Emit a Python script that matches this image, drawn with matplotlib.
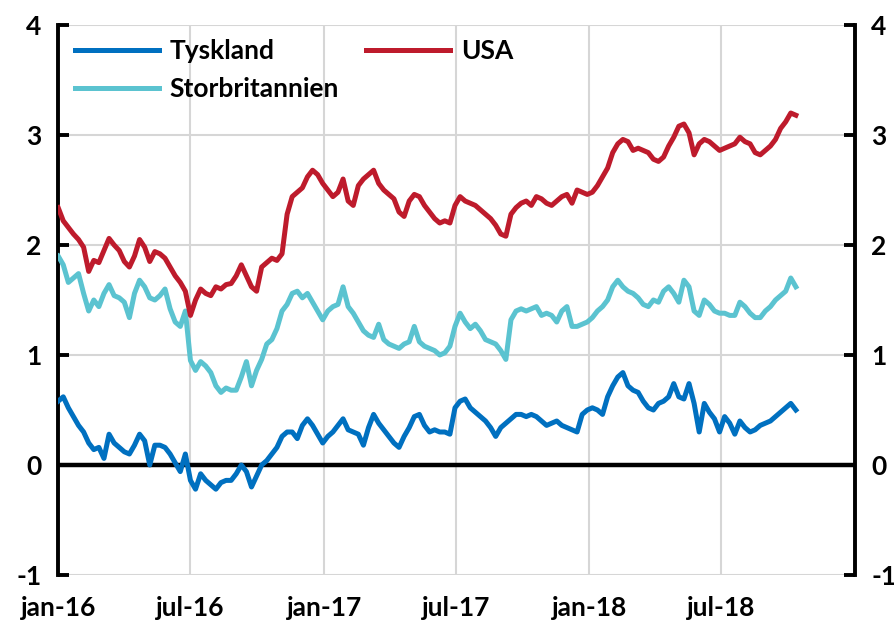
import pandas as pd
import matplotlib
matplotlib.use("Agg")
import matplotlib.pyplot as plt

# weekly readings, first week of jan-16 onwards
dates = pd.date_range("2016-01-01", periods=146, freq="7D")

tyskland = [
    0.58, 0.62, 0.52, 0.44, 0.36, 0.30, 0.20, 0.14, 0.16, 0.06,
    0.28, 0.20, 0.16, 0.12, 0.10, 0.18, 0.28, 0.22, 0.00, 0.18,
    0.18, 0.16, 0.10, 0.02, -0.06, 0.10, -0.14, -0.22, -0.08, -0.14,
    -0.18, -0.22, -0.16, -0.14, -0.14, -0.08, 0.00, -0.06, -0.20, -0.10,
    0.00, 0.04, 0.10, 0.16, 0.26, 0.30, 0.30, 0.24, 0.36, 0.42,
    0.36, 0.28, 0.20, 0.26, 0.30, 0.36, 0.42, 0.32, 0.30, 0.28,
    0.18, 0.34, 0.46, 0.38, 0.32, 0.26, 0.20, 0.16, 0.26, 0.34,
    0.44, 0.46, 0.36, 0.30, 0.32, 0.30, 0.30, 0.28, 0.52, 0.58,
    0.60, 0.52, 0.48, 0.44, 0.40, 0.34, 0.26, 0.34, 0.38, 0.42,
    0.46, 0.46, 0.44, 0.46, 0.44, 0.40, 0.36, 0.38, 0.40, 0.36,
    0.34, 0.32, 0.30, 0.46, 0.50, 0.52, 0.50, 0.46, 0.62, 0.72,
    0.80, 0.84, 0.72, 0.68, 0.66, 0.58, 0.52, 0.50, 0.56, 0.58,
    0.62, 0.74, 0.62, 0.60, 0.74, 0.56, 0.30, 0.56, 0.48, 0.42,
    0.30, 0.44, 0.38, 0.28, 0.40, 0.34, 0.30, 0.32, 0.36, 0.38,
    0.40, 0.44, 0.48, 0.52, 0.56, 0.50,
]

usa = [
    2.34, 2.22, 2.16, 2.10, 2.05, 1.98, 1.76, 1.86, 1.84, 1.95,
    2.06, 2.00, 1.95, 1.85, 1.80, 1.90, 2.05, 1.98, 1.85, 1.94,
    1.92, 1.88, 1.80, 1.72, 1.66, 1.58, 1.36, 1.50, 1.60, 1.56,
    1.54, 1.62, 1.60, 1.64, 1.65, 1.72, 1.82, 1.72, 1.62, 1.58,
    1.80, 1.84, 1.88, 1.86, 1.92, 2.28, 2.44, 2.48, 2.52, 2.62,
    2.68, 2.64, 2.56, 2.50, 2.44, 2.48, 2.60, 2.40, 2.36, 2.54,
    2.60, 2.64, 2.68, 2.56, 2.50, 2.46, 2.42, 2.30, 2.26, 2.40,
    2.46, 2.44, 2.36, 2.30, 2.24, 2.20, 2.22, 2.20, 2.36, 2.44,
    2.40, 2.38, 2.36, 2.32, 2.28, 2.24, 2.18, 2.10, 2.08, 2.28,
    2.34, 2.38, 2.40, 2.36, 2.44, 2.42, 2.38, 2.36, 2.40, 2.44,
    2.46, 2.38, 2.50, 2.48, 2.46, 2.48, 2.54, 2.62, 2.70, 2.84,
    2.92, 2.96, 2.94, 2.86, 2.88, 2.86, 2.84, 2.78, 2.76, 2.80,
    2.90, 2.98, 3.08, 3.10, 3.02, 2.82, 2.92, 2.96, 2.94, 2.90,
    2.86, 2.88, 2.90, 2.92, 2.98, 2.94, 2.92, 2.84, 2.82, 2.86,
    2.90, 2.96, 3.06, 3.12, 3.20, 3.18,
]

storbritannien = [
    1.90, 1.82, 1.66, 1.70, 1.74, 1.56, 1.40, 1.50, 1.44, 1.56,
    1.64, 1.54, 1.52, 1.48, 1.34, 1.56, 1.68, 1.62, 1.52, 1.50,
    1.54, 1.60, 1.42, 1.30, 1.26, 1.40, 0.95, 0.86, 0.94, 0.90,
    0.84, 0.72, 0.66, 0.70, 0.68, 0.68, 0.80, 0.94, 0.72, 0.86,
    0.96, 1.10, 1.14, 1.24, 1.40, 1.46, 1.56, 1.58, 1.52, 1.56,
    1.48, 1.40, 1.32, 1.40, 1.44, 1.46, 1.62, 1.44, 1.38, 1.30,
    1.22, 1.18, 1.16, 1.28, 1.14, 1.10, 1.08, 1.06, 1.10, 1.12,
    1.26, 1.12, 1.08, 1.06, 1.04, 1.00, 1.02, 1.08, 1.26, 1.38,
    1.30, 1.24, 1.28, 1.22, 1.14, 1.12, 1.10, 1.04, 0.96, 1.32,
    1.40, 1.42, 1.40, 1.42, 1.44, 1.36, 1.38, 1.36, 1.30, 1.40,
    1.44, 1.26, 1.26, 1.28, 1.30, 1.34, 1.40, 1.44, 1.50, 1.62,
    1.68, 1.62, 1.58, 1.56, 1.52, 1.46, 1.44, 1.50, 1.48, 1.58,
    1.62, 1.56, 1.48, 1.68, 1.62, 1.40, 1.36, 1.50, 1.46, 1.40,
    1.38, 1.38, 1.36, 1.36, 1.48, 1.44, 1.38, 1.34, 1.34, 1.40,
    1.44, 1.50, 1.54, 1.58, 1.70, 1.62,
]

tick_dates = pd.date_range("2016-01-01", "2019-01-01", freq="6MS")
tick_labels = ["jan-16", "jul-16", "jan-17", "jul-17", "jan-18", "jul-18", ""]

plt.rcParams["font.family"] = ["Lato", "DejaVu Sans"]
plt.rcParams["font.weight"] = "bold"
plt.rcParams["axes.unicode_minus"] = False

fig = plt.figure(figsize=(8.95, 6.26), dpi=100)
ax = fig.add_axes([0.065, 0.0815, 0.89, 0.8785])

ax.plot(dates, tyskland, color="#0070C0", lw=3.6, label="Tyskland", zorder=3)
ax.plot(dates, storbritannien, color="#5BC3D0", lw=3.6, label="Storbritannien", zorder=3)
ax.plot(dates, usa, color="#BE1B2C", lw=3.6, label="USA", zorder=3)

ax.axhline(0, color="black", lw=3.2, zorder=2)

ax.set_xlim(pd.Timestamp("2016-01-01"), pd.Timestamp("2019-01-01"))
ax.set_ylim(-1, 4)
ax.set_yticks(range(-1, 5))
ax.set_xticks(tick_dates)
ax.set_xticklabels(tick_labels)

ax.grid(True, color="#D6D6D6", lw=1.5, zorder=0)
ax.set_axisbelow(True)

for s in ["top", "bottom"]:
    ax.spines[s].set_visible(False)
for s in ["left", "right"]:
    ax.spines[s].set_linewidth(2.8)
    ax.spines[s].set_color("black")

ax.tick_params(axis="y", direction="in", length=8, width=2.8,
               left=True, right=True, labelleft=True, labelright=True,
               labelsize=19, pad=12)
ax.tick_params(axis="x", length=0, labelsize=19, pad=15)

leg = ax.legend(ncol=2, loc="upper left", bbox_to_anchor=(0.021, 0.975),
                frameon=False, fontsize=19, handlelength=3.2,
                handletextpad=0.4, columnspacing=1.0, borderaxespad=0,
                borderpad=0, labelspacing=0.55)

fig.savefig("out.png", dpi=100)
